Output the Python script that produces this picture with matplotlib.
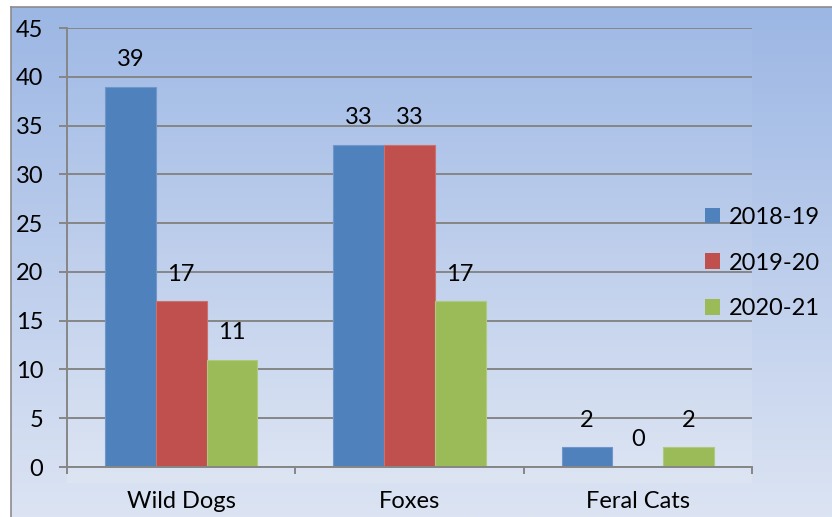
import numpy as np
import matplotlib.pyplot as plt
from matplotlib.colors import LinearSegmentedColormap
from matplotlib.patches import Patch

categories = ["Wild Dogs", "Foxes", "Feral Cats"]
seasons = ["2018-19", "2019-20", "2020-21"]
values_2018 = [39, 33, 2]
values_2019 = [17, 33, 0]
values_2020 = [11, 17, 2]
series = [values_2018, values_2019, values_2020]
colors = ["#4F81BD", "#C0504D", "#9BBB59"]
edges = ["#6F97CC", "#CC706E", "#AFC97D"]

plt.rcParams["font.family"] = ["Lato", "DejaVu Sans"]
fs = 17

fig = plt.figure(figsize=(8.32, 5.17), dpi=100, facecolor="white")
W, H = 832, 517

# chart-area gradient with grey frame on left/top
bg = fig.add_axes([11 / W, 0, 1 - 11 / W, 1 - 7 / H], zorder=0)
chart_cmap = LinearSegmentedColormap.from_list("chart", ["#9CB7E4", "#BCCDEC", "#DCE4F3"])
bg.imshow(np.linspace(0, 1, 256)[:, None], cmap=chart_cmap, aspect="auto",
          extent=[0, 1, 0, 1], origin="upper")
bg.set_xlim(0, 1)
bg.set_ylim(0, 1)
bg.set_xticks([])
bg.set_yticks([])
for s in ["right", "bottom"]:
    bg.spines[s].set_visible(False)
for s in ["left", "top"]:
    bg.spines[s].set_color("#8C8C8C")
    bg.spines[s].set_linewidth(1.2)

ax = fig.add_axes([67 / W, 50 / H, (752 - 67) / W, 439 / H], zorder=1)
ax.set_facecolor("none")
ax.set_xlim(-0.5, 2.5)
ax.set_ylim(0, 45)

plot_cmap = LinearSegmentedColormap.from_list("plot", ["#A1BBE6", "#BFCFEC", "#DDE5F3"])
ax.imshow(np.linspace(0, 1, 256)[:, None], cmap=plot_cmap, aspect="auto",
          extent=[-0.5, 2.5, -1.6, 45], origin="upper", zorder=0, clip_on=False)

x = np.arange(len(categories))
w = 0.222
for i, (vals, c, e) in enumerate(zip(series, colors, edges)):
    pos = x + (i - 1) * w
    ax.bar(pos, vals, width=w, color=c, edgecolor=e, linewidth=0.8, zorder=2,
           label=seasons[i])
    for px, v in zip(pos, vals):
        ax.annotate(str(v), (px, v), xytext=(0, 19.5), textcoords="offset points",
                    ha="center", va="center", fontsize=fs, color="black", zorder=3)

ax.set_axisbelow(True)
ax.yaxis.grid(True, color="#868686", linewidth=1.4)
ax.set_yticks(range(0, 46, 5))
ax.tick_params(axis="y", length=6, width=1.4, color="#868686", pad=11,
               labelsize=fs)

ax.set_xticks([-0.5, 0.5, 1.5, 2.5])
ax.set_xticklabels([])
ax.set_xticks(x, minor=True)
ax.set_xticklabels(categories, minor=True)
ax.tick_params(axis="x", which="major", length=5, width=1.4, color="#868686")
ax.tick_params(axis="x", which="minor", length=0, pad=17, labelsize=fs)

for s in ["top", "right"]:
    ax.spines[s].set_visible(False)
for s in ["left", "bottom"]:
    ax.spines[s].set_color("#868686")
    ax.spines[s].set_linewidth(1.4)

handles = [Patch(facecolor=c, edgecolor="none") for c in colors]
fig.legend(handles, seasons, loc="center left",
           bbox_to_anchor=(705 / W, 1 - 263 / H), frameon=False, fontsize=fs,
           handlelength=0.64, handleheight=0.64, handletextpad=0.35,
           labelspacing=1.05, borderpad=0, borderaxespad=0)

fig.savefig("out.png", dpi=100)
